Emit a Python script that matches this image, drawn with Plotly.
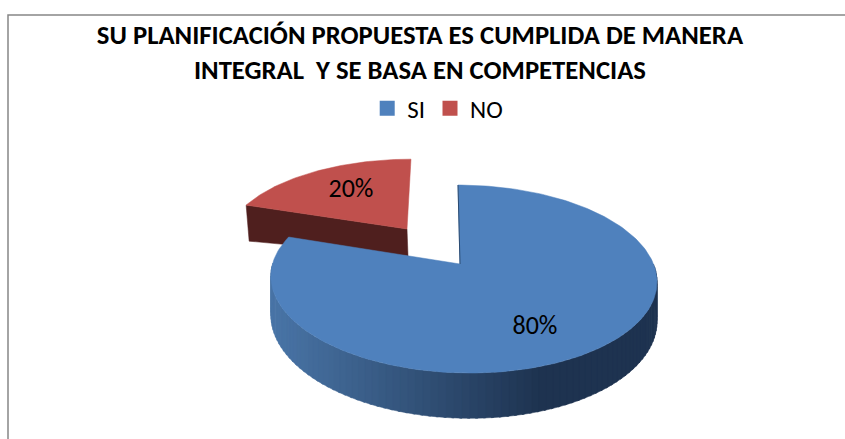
import numpy as np
import plotly.graph_objects as go

categories = ["SI", "NO"]
percent_values = [80, 20]
colors_top = ["#4f81bd", "#c0504d"]
title_lines = ["SU PLANIFICACIÓN PROPUESTA ES CUMPLIDA DE MANERA",
               "INTEGRAL\u00a0 Y SE BASA EN COMPETENCIAS"]
FONT = "Carlito, Lato, sans-serif"

K = 0.16


def project(theta, r, g):
    """theta clockwise from the top (deg), r radial fraction, g projection params."""
    t = np.radians(theta)
    X, Y = r * np.sin(t), -r * np.cos(t)
    s = 1 / (1 - K * Y)
    return g["x0"] + (g["b"] * X + g["d"] * Y) * s, g["y0"] + g["a"] * Y * s, s


def closed(xs, ys):
    return list(xs) + [xs[0]], list(ys) + [ys[0]]


blue = dict(x0=463, y0=264, a=91.6, b=190.5, d=5.8, depth=38, apex=(460, 264))
red = dict(x0=407, y0=229, a=81, b=179, d=-4.6, apex=(407, 229))

sweep = [v / sum(percent_values) * 360 for v in percent_values]
fig = go.Figure()


def poly(xs, ys, color):
    x, y = closed(xs, ys)
    fig.add_trace(go.Scatter(x=x, y=y, mode="lines", fill="toself", fillcolor=color,
                             line=dict(color=color, width=0.5), showlegend=False, hoverinfo="skip"))


# red slice: side wall then top
th = np.linspace(-sweep[1], 0, 60)
rx, ry, _ = project(th, 1, red)
poly([rx[0], red["apex"][0], red["apex"][0] + 1, rx[0] + 3],
     [ry[0], red["apex"][1], red["apex"][1] + 27, ry[0] + 36], "#4f1f1e")
poly([red["apex"][0]] + list(rx), [red["apex"][1]] + list(ry), colors_top[1])

# blue slice: side wall as shaded strips, then top
th = np.linspace(0, sweep[0], 240)
bx, by, bs = project(th, 1, blue)
edges = np.linspace(90, 270, 91)
for a0, a1 in zip(edges[:-1], edges[1:]):
    seg = np.linspace(a0, a1 + 0.6, 5)
    sx, sy, ss = project(seg, 1, blue)
    f = np.clip((sx.mean() - 540) / (270 - 540), 0, 1)
    c = [int(30 + f * 44), int(51 + f * 67), int(80 + f * 88)]
    poly(list(sx) + list(sx[::-1]),
         list(sy) + list((sy + blue["depth"] * ss)[::-1]), f"rgb({c[0]},{c[1]},{c[2]})")
poly([blue["apex"][0]] + list(bx), [blue["apex"][1]] + list(by), colors_top[0])
fig.add_trace(go.Scatter(x=[bx[0], blue["apex"][0]], y=[by[0], blue["apex"][1]], mode="lines",
                         line=dict(color="#2a4a70", width=1), showlegend=False, hoverinfo="skip"))

# value labels
fig.add_trace(go.Scatter(x=[535, 351], y=[327, 190], mode="text",
                         text=[f"{v}%" for v in percent_values],
                         textfont=dict(family=FONT, size=26, color="#000000"),
                         showlegend=False, hoverinfo="skip"))

# legend entries
for name, col in zip(categories, colors_top):
    fig.add_trace(go.Scatter(x=[None], y=[None], mode="markers", name=name,
                             marker=dict(symbol="square", size=15, color=col)))

fig.update_layout(
    width=845, height=439, autosize=False,
    margin=dict(l=0, r=0, t=0, b=0),
    paper_bgcolor="white", plot_bgcolor="white",
    xaxis=dict(range=[0, 845], visible=False, fixedrange=True),
    yaxis=dict(range=[439, 0], visible=False, fixedrange=True),
    title=dict(text="<br>".join(title_lines), x=0.497, xanchor="center", y=0.9, yanchor="top",
               font=dict(family=FONT, size=26.7, color="#000000", weight="bold")),
    legend=dict(orientation="h", x=0.518, xanchor="center", y=0.753, yanchor="middle",
                font=dict(family=FONT, size=25, color="#000000"),
                bgcolor="rgba(0,0,0,0)", itemwidth=30, tracegroupgap=0),
    shapes=[dict(type="path", path="M 8 439 L 8 15 L 845 15", xref="x", yref="y",
                 line=dict(color="#868686", width=1.5))],
)
fig.write_html("out.html", config=dict(displayModeBar=False),
               post_script="document.body.style.margin='0';")
